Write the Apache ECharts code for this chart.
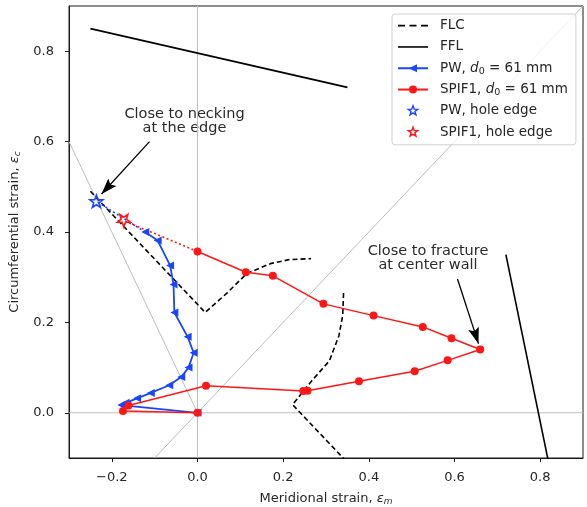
<!DOCTYPE html>
<html>
<head>
<meta charset="utf-8">
<script src="https://cdn.jsdelivr.net/npm/echarts@6/dist/echarts.min.js"></script>
<style>html,body{margin:0;padding:0;background:#fff}#main{width:587px;height:507px}</style>
</head>
<body>
<div id="main"></div>
<script>
// strain paths, [meridional, circumferential]
var pwPath = [[0,0],[-0.178,0.017],[-0.168,0.022],[-0.141,0.032],[-0.109,0.044],[-0.066,0.061],[-0.038,0.079],[-0.021,0.100],[-0.009,0.133],[-0.023,0.168],[-0.054,0.222],[-0.056,0.284],[-0.064,0.326],[-0.093,0.381],[-0.122,0.400]];
var spifPath = [[0,0],[-0.174,0.004],[-0.161,0.016],[0.020,0.060],[0.247,0.048],[0.257,0.049],[0.377,0.070],[0.507,0.092],[0.584,0.116],[0.660,0.140],[0.593,0.165],[0.526,0.190],[0.411,0.215],[0.294,0.241],[0.176,0.303],[0.113,0.311],[0,0.357]];
var pwHole = [[-0.236,0.468]];
var spifHole = [[-0.172,0.425]];
var flcUpper = [[-0.25,0.49],[0.018,0.222],[0.07,0.266],[0.115,0.308],[0.17,0.330],[0.215,0.339],[0.265,0.341]];
var flcLower = [[0.341,0.265],[0.339,0.215],[0.330,0.17],[0.308,0.115],[0.266,0.07],[0.222,0.018],[0.49,-0.25]];
var fflUpper = [[-0.25,0.85],[0.35,0.72]];
var fflLower = [[0.72,0.35],[0.85,-0.25]];
// grey guide lines: axes through origin, equi-biaxial, uniaxial
var guides = [
  [[0,-0.1],[0,0.9]],
  [[-0.3,0],[0.9,0]],
  [[-0.1,-0.1],[0.9,0.9]],
  [[-0.3,0.6],[0,0]]
];
// annotation arrows, tail -> tip
var arrows = [
  [[-0.112,0.600],[-0.224,0.484]],
  [[0.607,0.296],[0.656,0.153]]
];
var xTicks = [-0.2,0,0.2,0.4,0.6,0.8];
var yTicks = [0,0.2,0.4,0.6,0.8];

var blue = '#1846ff', red = '#ff1616', ink = '#262626';
var font = 'DejaVu Sans';

function starPath(pad){
  var p = [];
  for (var i = 0; i < 10; i++) {
    var r = i % 2 ? 4.1 : 10;
    var a = -Math.PI/2 + i*Math.PI/5;
    p.push((r*Math.cos(a)).toFixed(2) + ',' + (r*Math.sin(a)).toFixed(2));
  }
  var s = 'path://M' + p.join('L') + 'Z';
  if (pad) s += 'M' + (-pad) + ',' + (-pad) + 'M' + pad + ',' + pad;
  return s;
}
var star = starPath(0);
var starLegend = starPath(10);
// legend swatches for the plain black lines
var dashIcon = 'path://M0,0h7v1.6h-7zM11.5,0h7v1.6h-7zM23,0h7v1.6h-7z';
var solidIcon = 'path://M0,0h30v1.6h-30z';
// arrow head with its tip at the centre of a 32x32 box
var headIcon = 'path://M16,16L21.5,32L16,29L10.5,32ZM0,0M32,0';

function tickFmt(v){ return v.toFixed(1).replace('-', '\u2212'); }

var mathRich = {
  i: {fontStyle:'italic', fontFamily:font, fontSize:13, color:ink},
  s: {fontStyle:'italic', fontFamily:font, fontSize:9, color:ink, padding:[6,0,0,0]}
};
var legRich = {
  i: {fontStyle:'italic', fontFamily:font, fontSize:13.5, color:ink},
  n: {fontFamily:font, fontSize:9.5, color:ink, padding:[6,0,0,0]}
};
var hollow = 'rgba(255,255,255,0)';

var series = [];
guides.forEach(function(g){
  series.push({type:'line', data:g, symbol:'none', silent:true, z:1,
    lineStyle:{color:'#bdbdbd', width:1}});
});
[flcUpper, flcLower].forEach(function(d){
  series.push({name:'FLC', type:'line', data:d, symbol:'none', z:2,
    lineStyle:{color:'#000', width:1.6, type:[5,3]}, itemStyle:{color:'#000'}});
});
[fflUpper, fflLower].forEach(function(d){
  series.push({name:'FFL', type:'line', data:d, symbol:'none', z:2,
    lineStyle:{color:'#000', width:1.6}, itemStyle:{color:'#000'}});
});
// dotted links to the hole edge
series.push({type:'line', data:[pwPath[pwPath.length-1], pwHole[0]], symbol:'none', z:3,
  lineStyle:{color:blue, width:1.6, type:[2,2.5]}});
series.push({type:'line', data:[spifPath[spifPath.length-1], spifHole[0]], symbol:'none', z:3,
  lineStyle:{color:red, width:1.6, type:[2,2.5]}});
series.push({name:'PW, d0 = 61 mm', type:'line', data:pwPath, z:4,
  symbol:'triangle', symbolSize:8, symbolRotate:90, showAllSymbol:true,
  lineStyle:{color:blue, width:1.8}, itemStyle:{color:blue}});
series.push({name:'SPIF1, d0 = 61 mm', type:'line', data:spifPath, z:5,
  symbol:'circle', symbolSize:8, showAllSymbol:true,
  lineStyle:{color:red, width:1.5}, itemStyle:{color:red}});
series.push({name:'PW, hole edge', type:'scatter', data:pwHole, z:6,
  symbol:star, symbolSize:13, symbolKeepAspect:true,
  itemStyle:{color:hollow, borderColor:blue, borderWidth:1.6, opacity:1}});
series.push({name:'SPIF1, hole edge', type:'scatter', data:spifHole, z:6,
  symbol:star, symbolSize:13, symbolRotate:180, symbolKeepAspect:true,
  itemStyle:{color:hollow, borderColor:red, borderWidth:1.6, opacity:1}});
// arrows drawn as mark lines on an empty helper series
series.push({type:'line', data:[], silent:true, z:7,
  markLine:{silent:true, symbol:['none', headIcon], symbolSize:32, animation:false,
    label:{show:false}, emphasis:{disabled:true},
    lineStyle:{color:'#000', width:1.3, type:'solid'},
    itemStyle:{color:'#000'},
    data:arrows.map(function(a){ return [{coord:a[0]},{coord:a[1]}]; })}});

var chart = echarts.init(document.getElementById('main'), null, {renderer:'canvas'});
chart.setOption({
  animation:false,
  textStyle:{fontFamily:font},
  grid:{left:69, right:4, top:6, bottom:49, show:true, borderColor:'#1a1a1a', borderWidth:1,
    containLabel:false, outerBoundsMode:'none'},
  xAxis:{type:'value', min:-0.3, max:0.9,
    name:'Meridional strain, {i|\u03b5}{s|m}', nameLocation:'middle', nameGap:33,
    nameTextStyle:{fontFamily:font, fontSize:13, color:ink, rich:mathRich},
    axisLine:{show:true, onZero:false, lineStyle:{color:'#1a1a1a', width:1}},
    axisTick:{show:true, length:4, inside:false, customValues:xTicks, lineStyle:{color:'#1a1a1a'}},
    axisLabel:{customValues:xTicks, formatter:tickFmt, margin:13, fontFamily:font, fontSize:13, color:ink},
    splitLine:{show:false}},
  yAxis:{type:'value', min:-0.1, max:0.9,
    name:'Circumferential strain, {i|\u03b5}{s|c}', nameLocation:'middle', nameGap:44, nameRotate:90,
    nameTextStyle:{fontFamily:font, fontSize:13, color:ink, rich:mathRich},
    axisLine:{show:true, onZero:false, lineStyle:{color:'#1a1a1a', width:1}},
    axisTick:{show:true, length:4, inside:false, customValues:yTicks, lineStyle:{color:'#1a1a1a'}},
    axisLabel:{customValues:yTicks, formatter:tickFmt, margin:15, fontFamily:font, fontSize:13, color:ink},
    splitLine:{show:false}},
  legend:{orient:'vertical', left:392, top:14, padding:[1,8,2,5],
    backgroundColor:'rgba(255,255,255,0.8)', borderColor:'#d0d0d0', borderWidth:1, borderRadius:3,
    itemWidth:30, itemHeight:10, itemGap:0,
    data:[
      {name:'FLC', icon:dashIcon},{name:'FFL', icon:solidIcon},
      {name:'PW, d0 = 61 mm'},{name:'SPIF1, d0 = 61 mm'},
      {name:'PW, hole edge', icon:starLegend,
        itemStyle:{color:hollow, borderColor:blue, borderWidth:1.4, opacity:1}},
      {name:'SPIF1, hole edge', icon:starLegend,
        itemStyle:{color:hollow, borderColor:red, borderWidth:1.4, opacity:1}}
    ],
    formatter:function(n){ return n.replace('d0', '{i|d}{n|0}'); },
    textStyle:{fontFamily:font, fontSize:13.5, color:ink, lineHeight:21.3, padding:[0,0,0,7], rich:legRich}},
  graphic:[
    {type:'text', silent:true, style:{text:'Close to necking\nat the edge', x:184.5, y:121,
      align:'center', verticalAlign:'middle', lineHeight:14.5, font:'14.5px "DejaVu Sans"', fill:'#2a2a2a'}},
    {type:'text', silent:true, style:{text:'Close to fracture\nat center wall', x:428, y:258.5,
      align:'center', verticalAlign:'middle', lineHeight:14, font:'14.5px "DejaVu Sans"', fill:'#2a2a2a'}}
  ],
  series:series
});
</script>
</body>
</html>
